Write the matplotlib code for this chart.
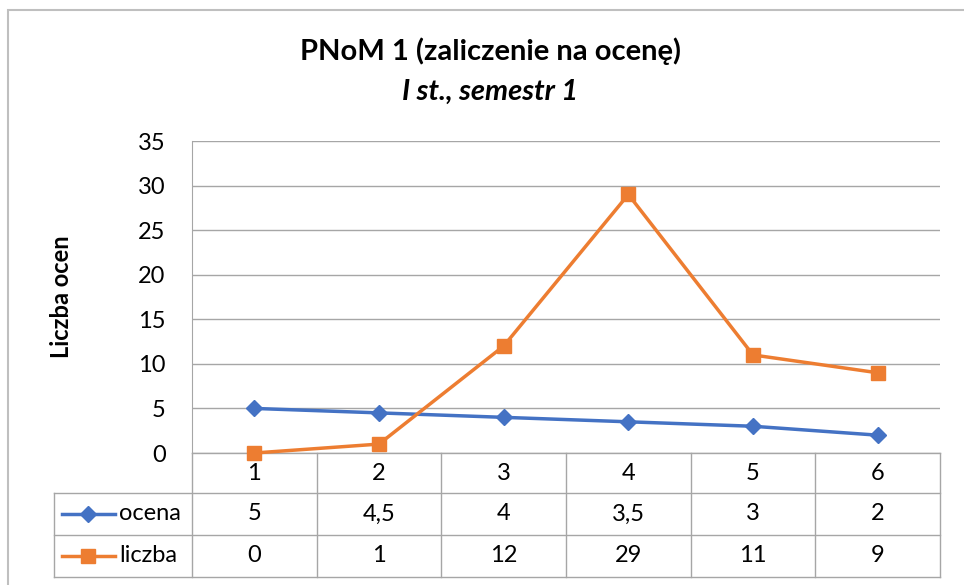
import matplotlib.pyplot as plt
from matplotlib.patches import Rectangle

kategorie = [1, 2, 3, 4, 5, 6]
ocena = [5, 4.5, 4, 3.5, 3, 2]
liczba = [0, 1, 12, 29, 11, 9]
etykiety_ocena = ['5', '4,5', '4', '3,5', '3', '2']
etykiety_liczba = ['0', '1', '12', '29', '11', '9']
y_ticks = [0, 5, 10, 15, 20, 25, 30, 35]

niebieski = '#4472C4'
pomaranczowy = '#ED7D31'
szary = '#A6A6A6'
fs = 17

plt.rcParams['font.family'] = ['Lato', 'DejaVu Sans']

W, H = 964, 585
fig = plt.figure(figsize=(W / 100, H / 100), dpi=100)
ax = fig.add_axes([192 / W, 1 - 453 / H, (940 - 192) / W, (453 - 141) / H])

ax.plot(kategorie, ocena, color=niebieski, lw=2.5, marker='D', ms=8, clip_on=False, zorder=3)
ax.plot(kategorie, liczba, color=pomaranczowy, lw=2.5, marker='s', ms=10, clip_on=False, zorder=3)

ax.set_xlim(0.5, 6.5)
ax.set_ylim(0, 35)
ax.set_yticks(y_ticks)
ax.set_yticklabels([str(t) for t in y_ticks], fontsize=fs)
ax.set_xticks([])
ax.tick_params(axis='y', length=0, pad=19)
ax.yaxis.grid(True, color=szary, lw=1)
ax.set_axisbelow(True)
for s in ['top', 'right', 'bottom']:
    ax.spines[s].set_visible(False)
ax.spines['left'].set_color(szary)
ax.set_ylabel('Liczba ocen', fontsize=17, fontweight='bold')
ax.yaxis.set_label_coords((73 - 192) / 748, 0.5)

# tabela danych pod wykresem
tr = ax.get_xaxis_transform()
def px_x(p):
    return 0.5 + (p - 192) / ((940 - 192) / 6)
def px_y(p):
    return (453 - p) / (453 - 141)

rows = [px_y(453), px_y(493), px_y(535), px_y(577)]
x_leg = px_x(54)
line_kw = dict(color=szary, lw=1, transform=tr, clip_on=False)
ax.plot([0.5, 6.5], [rows[0], rows[0]], **line_kw)
for r in rows[1:]:
    ax.plot([x_leg, 6.5], [r, r], **line_kw)
for i in range(7):
    ax.plot([0.5 + i, 0.5 + i], [rows[0], rows[3]], **line_kw)
ax.plot([x_leg, x_leg], [rows[1], rows[3]], **line_kw)

for i, k in enumerate(kategorie):
    ax.text(k, (rows[0] + rows[1]) / 2, str(k), transform=tr, ha='center', va='center', fontsize=fs)
    ax.text(k, (rows[1] + rows[2]) / 2, etykiety_ocena[i], transform=tr, ha='center', va='center', fontsize=fs)
    ax.text(k, (rows[2] + rows[3]) / 2, etykiety_liczba[i], transform=tr, ha='center', va='center', fontsize=fs)

for nazwa, kolor, mk, ms, r0, r1 in [('ocena', niebieski, 'D', 8, rows[1], rows[2]),
                                     ('liczba', pomaranczowy, 's', 10, rows[2], rows[3])]:
    yc = (r0 + r1) / 2
    ax.plot([px_x(62), px_x(115)], [yc, yc], color=kolor, lw=2.5, transform=tr, clip_on=False)
    ax.plot([px_x(88)], [yc], color=kolor, marker=mk, ms=ms, transform=tr, clip_on=False)
    ax.text(px_x(119), yc, nazwa, transform=tr, ha='left', va='center', fontsize=fs)

fig.text(490 / W, 1 - 51 / H, 'PNoM 1 (zaliczenie na ocenę)', ha='center', va='center',
         fontsize=21, fontweight='bold')
fig.text(490 / W, 1 - 92 / H, 'I st., semestr 1', ha='center', va='center',
         fontsize=21, fontweight='bold', style='italic')

fig.patches.append(Rectangle((8 / W, -0.1), 1.5, 1 - 10 / H + 0.1, transform=fig.transFigure,
                             fill=False, edgecolor='#BFBFBF', lw=1.5))

fig.savefig('out.png', dpi=100)
